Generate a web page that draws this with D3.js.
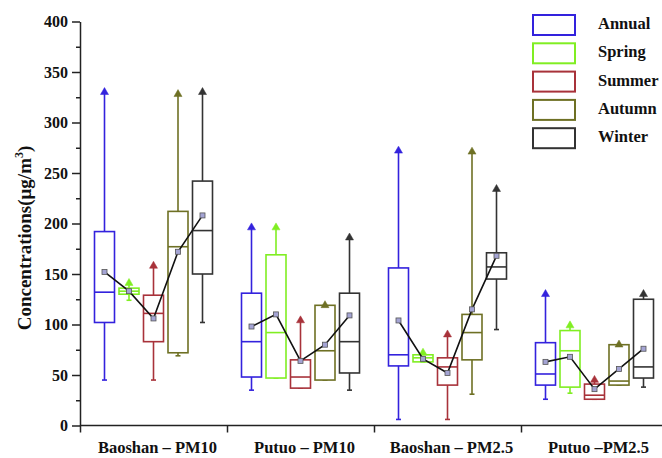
<!DOCTYPE html>
<html>
<head>
<meta charset="utf-8">
<script src="https://cdn.jsdelivr.net/npm/d3@7"></script>
<style>
    body { margin: 0; background: #fff; }
    svg { display: block; }
    text { font-family: "Liberation Serif", "Times New Roman", serif; font-weight: bold; fill: #111; }
    .axis path, .axis line { stroke: #222; stroke-width: 1.5; }
</style>
</head>
<body>
<svg id="chart" width="662" height="458"></svg>
<script>
// categories
const groups = ['Baoshan \u2013 PM10', 'Putuo \u2013 PM10', 'Baoshan \u2013 PM2.5', 'Putuo \u2013PM2.5'];
const seasons = ['Annual', 'Spring', 'Summer', 'Autumn', 'Winter'];
const colors = ['#3322dd', '#80ee22', '#a8323a', '#6e7024', '#333333'];

// box statistics, one row per group, one column per season (ug/m3)
const minVals    = [[45, 124, 45, 69, 102], [35, 47, 37, 45, 35], [6, 63, 6, 31, 95], [26, 32, 26, 40, 38]];
const q1Vals     = [[102, 130, 83, 72, 150], [48, 47, 37, 45, 52], [59, 63, 40, 65, 145], [40, 38, 26, 40, 47]];
const medianVals = [[132, 133, 111, 177, 193], [83, 92, 48, 74, 83], [70, 67, 58, 92, 157], [51, 74, 30, 44, 58]];
const q3Vals     = [[192, 136, 129, 212, 242], [131, 169, 65, 119, 131], [156, 70, 67, 110, 171], [82, 94, 41, 80, 125]];
const maxVals    = [[330, 141, 158, 328, 330], [196, 196, 104, 119, 186], [272, 72, 90, 271, 234], [130, 99, 45, 80, 130]];
const meanVals   = [[152, 133, 106, 172, 208], [98, 110, 64, 80, 109], [104, 66, 52, 115, 168], [63, 68, 36, 56, 76]];

const yTicks = d3.range(0, 401, 50);
const yMinorTicks = d3.range(25, 400, 50);

(function () {

    let svg = d3.select('#chart'),
        left = 80,
        right = 668,
        top = 21.5,
        bottom = 425.5,
        boxWidth = 20;

    let y = d3.scaleLinear().domain([0, 400]).range([bottom, top]);
    let x = d3.scaleBand().domain(groups).range([left, right]);
    //seasons sit inside each group band
    let xs = d3.scalePoint().domain(seasons).range([0, x.bandwidth()]).padding(1);
    let color = d3.scaleOrdinal().domain(seasons).range(colors);

    //y axis, major and minor ticks
    svg.append('g')
        .attr('class', 'axis')
        .attr('transform', 'translate(' + left + ',0)')
        .call(d3.axisLeft(y).tickValues(yMinorTicks).tickSize(4).tickFormat(''))
        .select('.domain').remove();

    let yAxis = svg.append('g')
        .attr('class', 'axis')
        .attr('transform', 'translate(' + left + ',0)')
        .call(d3.axisLeft(y).tickValues(yTicks).tickSize(8).tickSizeOuter(0).tickPadding(4));
    yAxis.selectAll('text').style('font-size', '16px');

    //x axis: ticks on the group boundaries
    let xEdge = d3.scaleLinear().domain([0, groups.length]).range([left, right]);
    let xAxis = svg.append('g')
        .attr('class', 'axis')
        .attr('transform', 'translate(0,' + bottom + ')')
        .call(d3.axisBottom(xEdge).tickValues(d3.range(groups.length)).tickSize(7).tickSizeOuter(0).tickFormat(''));
    xAxis.select('.domain').attr('d', 'M' + left + ',0H662');

    svg.append('g')
        .selectAll('text')
        .data(groups)
        .enter().append('text')
        .attr('x', d => x(d) + x.bandwidth() / 2 + 4)
        .attr('y', 453)
        .attr('text-anchor', 'middle')
        .style('font-size', '16.5px')
        .text(d => d);

    //y title
    let title = svg.append('text')
        .attr('transform', 'translate(31,238) rotate(-90)')
        .attr('text-anchor', 'middle')
        .style('font-size', '19px');
    title.append('tspan').text('Concentrations(\u03bcg/m');
    title.append('tspan').attr('dy', -8).style('font-size', '12px').text('3');
    title.append('tspan').attr('dy', 8).text(')');

    //flatten into one record per box
    let boxes = [];
    groups.forEach((g, gi) => {
        seasons.forEach((s, si) => {
            boxes.push({
                group: g, season: s,
                min: minVals[gi][si], q1: q1Vals[gi][si], median: medianVals[gi][si],
                q3: q3Vals[gi][si], max: maxVals[gi][si], mean: meanVals[gi][si]
            });
        });
    });

    let cx = d => x(d.group) + xs(d.season);

    let box = svg.append('g')
        .selectAll('.box')
        .data(boxes)
        .enter().append('g')
        .attr('class', 'box')
        .style('stroke', d => color(d.season))
        .style('fill', 'none')
        .style('stroke-width', 1.6);

    //whisker
    box.append('line')
        .attr('x1', cx).attr('x2', cx)
        .attr('y1', d => y(d.min)).attr('y2', d => y(d.max));

    //min cap
    box.append('line')
        .attr('x1', d => cx(d) - 2.5).attr('x2', d => cx(d) + 2.5)
        .attr('y1', d => y(d.min)).attr('y2', d => y(d.min));

    box.append('rect')
        .attr('x', d => cx(d) - boxWidth / 2)
        .attr('width', boxWidth)
        .attr('y', d => y(d.q3))
        .attr('height', d => y(d.q1) - y(d.q3))
        .style('fill', '#fff');

    box.append('line')
        .attr('x1', d => cx(d) - boxWidth / 2).attr('x2', d => cx(d) + boxWidth / 2)
        .attr('y1', d => y(d.median)).attr('y2', d => y(d.median));

    //max marker
    box.append('path')
        .attr('d', d3.symbol().type(d3.symbolTriangle).size(28))
        .attr('transform', d => 'translate(' + cx(d) + ',' + y(d.max) + ')')
        .style('fill', d => color(d.season))
        .style('stroke-width', 0.5);

    //mean line per group
    let line = d3.line()
        .x(d => cx(d))
        .y(d => y(d.mean));

    svg.append('g')
        .selectAll('path')
        .data(groups.map(g => boxes.filter(b => b.group == g)))
        .enter().append('path')
        .attr('d', line)
        .style('fill', 'none')
        .style('stroke', '#111')
        .style('stroke-width', 1.6);

    svg.append('g')
        .selectAll('rect')
        .data(boxes)
        .enter().append('rect')
        .attr('x', d => cx(d) - 2.5)
        .attr('y', d => y(d.mean) - 2.5)
        .attr('width', 5)
        .attr('height', 5)
        .style('fill', '#a4a4d4')
        .style('stroke', '#555')
        .style('stroke-width', 0.8);

    //legend
    let item = svg.append('g')
        .selectAll('.legend-item')
        .data(seasons)
        .enter().append('g')
        .attr('class', 'legend-item')
        .attr('transform', (d, i) => 'translate(533,' + (15 + i * 28.3) + ')');

    item.append('rect')
        .attr('width', 42)
        .attr('height', 20)
        .style('fill', '#fff')
        .style('stroke', d => color(d))
        .style('stroke-width', 2);

    item.append('text')
        .attr('x', 65)
        .attr('y', 14)
        .style('font-size', '16.5px')
        .text(d => d);

}());
</script>
</body>
</html>
